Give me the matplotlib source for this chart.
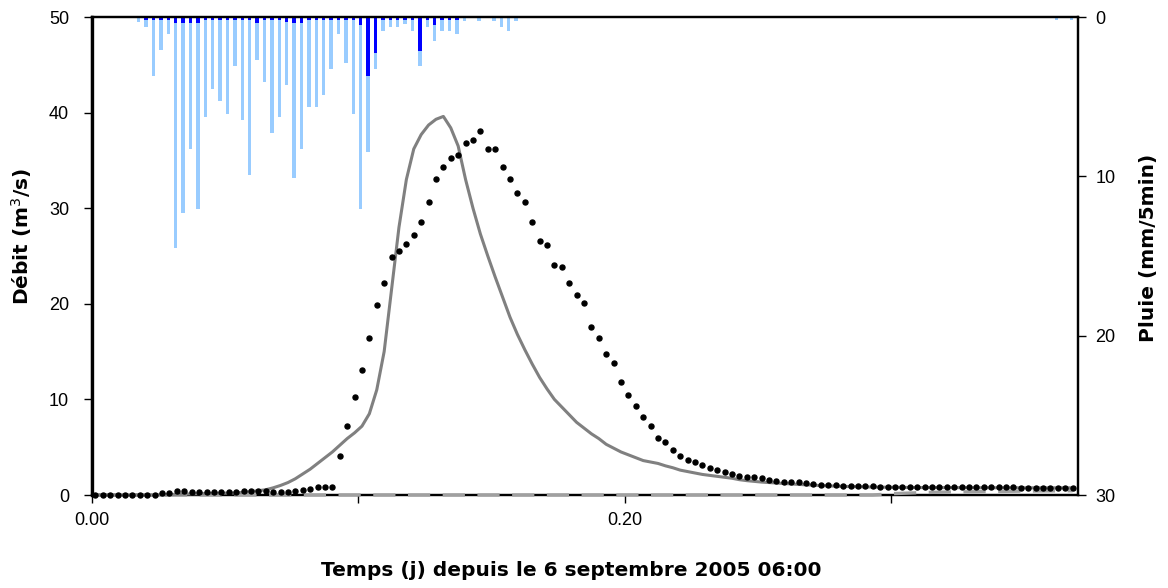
import matplotlib
matplotlib.use("Agg")
import matplotlib.pyplot as plt
import numpy as np

plt.rcParams["font.family"] = ["Liberation Sans", "DejaVu Sans"]
plt.rcParams["lines.scale_dashes"] = False

# pas de temps : 4 min en jours
DT = 4 / 1440
T0 = 0.0013
RAIN_T0 = 0.0175

# débit observé (m3/s), un point toutes les 4 min
q_obs = [0.0] * 8 + [
    0.05, 0.24, 0.24, 0.42, 0.38, 0.31, 0.31, 0.31, 0.31, 0.31, 0.31, 0.31,
    0.40, 0.42, 0.42, 0.42, 0.35, 0.35, 0.35, 0.38, 0.52, 0.63, 0.84, 0.87, 0.87,
    4.1, 7.2, 10.3, 13.1, 16.4, 19.9, 22.2, 24.9, 25.5, 26.3, 27.2, 28.6, 30.7,
    33.1, 34.3, 35.2, 35.6, 36.8, 37.1, 38.1, 36.2, 36.2, 34.3, 33.1, 31.6, 30.7,
    28.6, 26.6, 26.1, 24.1, 23.8, 22.2, 20.9, 20.1, 17.6, 16.4, 14.7, 13.8, 11.8,
    10.5, 9.3, 8.2, 7.2, 6.0, 5.5, 4.7, 4.1, 3.7, 3.4, 3.1, 2.8, 2.65, 2.4, 2.2,
    2.0, 1.9, 1.9, 1.8, 1.55, 1.46, 1.4, 1.4, 1.33, 1.22, 1.12,
    1.08, 1.03, 1.0, 0.97, 0.95, 0.93, 0.92, 0.9, 0.88, 0.87, 0.86, 0.85, 0.85,
    0.84, 0.84, 0.83, 0.83, 0.82, 0.82, 0.81, 0.81, 0.8, 0.8, 0.8, 0.79, 0.79,
    0.79, 0.78, 0.78, 0.78, 0.77, 0.77, 0.77, 0.76, 0.76,
]

# débit simulé (m3/s)
q_sim = [0.0] * 9 + [
    0.02, 0.05, 0.07, 0.1, 0.12, 0.13, 0.15, 0.17, 0.18, 0.2, 0.22, 0.28, 0.35,
    0.45, 0.55, 0.75, 1.0, 1.3, 1.7, 2.2, 2.7, 3.3, 3.9, 4.5, 5.2, 5.9, 6.5, 7.2,
    8.5, 11.0, 15.0, 21.5, 28.0, 33.0, 36.2, 37.7, 38.7, 39.3, 39.6, 38.4, 36.5,
    33.0, 30.0, 27.3, 25.0, 22.8, 20.7, 18.6, 16.8, 15.2, 13.7, 12.3, 11.1, 10.0,
    9.2, 8.4, 7.6, 7.0, 6.4, 5.9, 5.3, 4.9, 4.5, 4.2, 3.9, 3.6, 3.45, 3.3, 3.05,
    2.85, 2.6, 2.45, 2.3, 2.15, 2.05, 1.95, 1.85, 1.75, 1.6, 1.5, 1.42, 1.35, 1.3,
    1.25, 1.2, 1.15, 1.1, 1.06, 1.03, 0.98, 0.95, 0.92, 0.9, 0.88, 0.86, 0.84,
    0.83, 0.82, 0.81, 0.8, 0.79, 0.79, 0.78, 0.78, 0.78, 0.77, 0.77, 0.77, 0.77,
    0.76, 0.76, 0.76, 0.76, 0.76, 0.75, 0.75, 0.75, 0.75, 0.75, 0.75, 0.75, 0.75,
    0.75, 0.75,
]

# débit de base (tirets gris)
q_base = [0.0] * 106 + [
    0.05, 0.1, 0.15, 0.18, 0.21, 0.24, 0.26, 0.28, 0.3, 0.31, 0.32, 0.33, 0.34,
    0.35, 0.36, 0.37, 0.38, 0.39, 0.4, 0.41, 0.42, 0.42, 0.43, 0.43, 0.44, 0.44,
    0.45,
]

# pluie (mm/5min) : indices des pas, lames claires et foncées
rain_idx = list(range(52)) + [124, 126]
rain_light = [
    0.29, 0.65, 3.68, 2.07, 1.07, 14.5, 12.28, 8.28, 12.07, 6.28, 4.5, 5.27, 6.11,
    3.08, 6.49, 9.9, 2.68, 4.06, 7.28, 6.28, 4.29, 10.08, 8.28, 5.67, 5.67, 4.9,
    3.28, 1.07, 2.87, 6.11, 12.07, 8.5, 3.28, 0.86, 0.65, 0.65, 0.44, 0.86, 3.08,
    0.65, 1.49, 0.86, 0.86, 1.07, 0.23, 0.0, 0.23, 0.0, 0.23, 0.65, 0.86, 0.23,
    0.2, 0.2,
]
rain_dark = [
    0.0, 0.2, 0.2, 0.2, 0.2, 0.4, 0.4, 0.35, 0.4, 0.2, 0.2, 0.2, 0.2,
    0.2, 0.2, 0.2, 0.35, 0.2, 0.2, 0.2, 0.3, 0.35, 0.35, 0.2, 0.2, 0.2,
    0.2, 0.2, 0.2, 0.2, 0.5, 3.7, 2.28, 0.2, 0.2, 0.2, 0.2, 0.2, 2.11,
    0.2, 0.48, 0.2, 0.2, 0.2, 0.0, 0.0, 0.0, 0.0, 0.0, 0.0, 0.0, 0.0,
    0.0, 0.0,
]

t = T0 + np.arange(len(q_obs)) * DT
t_rain = RAIN_T0 + np.array(rain_idx) * DT

fig = plt.figure(figsize=(11.68, 5.88), dpi=100)
ax = fig.add_axes([92 / 1168, 1 - 495 / 588, 986 / 1168, 478 / 588])
ax2 = ax.twinx()
ax.set_zorder(ax2.get_zorder() + 1)
ax.patch.set_visible(False)

bw = 0.00125
ax2.bar(t_rain, rain_light, width=bw, color="#99CCFF", align="center")
ax2.bar(t_rain, rain_dark, width=bw, color="#0000FF", align="center")
ax2.set_ylim(30, 0)
ax2.set_yticks([0, 10, 20, 30])

ax.plot(t, q_base, color="#A0A0A0", lw=2.4, dashes=(16, 9), zorder=3, clip_on=False)
ax.plot(t, q_sim, color="#808080", lw=2.2, zorder=4, clip_on=False)
ax.plot(t, q_obs, ls="none", marker="o", ms=3.6, color="black", zorder=5, clip_on=False)

ax.set_xlim(0, 0.370)
ax.set_ylim(0, 50)
ax.set_yticks([0, 10, 20, 30, 40, 50])
ax.set_xticks([0, 0.1, 0.2, 0.3])
ax.set_xticklabels(["0.00", "", "0.20", ""])

for a in (ax, ax2):
    for s in a.spines.values():
        s.set_linewidth(1.6)
        s.set_color("black")
        s.set_zorder(2.5)
    a.tick_params(direction="out", length=5.5, width=1, labelsize=13)
ax.spines["left"].set_linewidth(2.4)
ax.tick_params(axis="y", pad=11)
ax.tick_params(axis="x", pad=7)
ax2.tick_params(axis="y", pad=7)

lab = dict(fontsize=14.5, fontweight="bold", family=["DejaVu Sans"])
ax.set_xlabel("Temps (j) depuis le 6 septembre 2005 06:00", **lab)
ax.set_ylabel("Débit (m$^3$/s)", **lab)
ax2.set_ylabel("Pluie (mm/5min)", **lab)
ax.xaxis.set_label_coords(0.486, -0.157)
ax.xaxis.label.set_va("center")
ax.yaxis.set_label_coords(-0.071, 0.54)
ax.yaxis.label.set_va("center")
ax2.yaxis.set_label_coords(1.071, 0.517)
ax2.yaxis.label.set_va("center")

fig.savefig("out.png", dpi=100)
